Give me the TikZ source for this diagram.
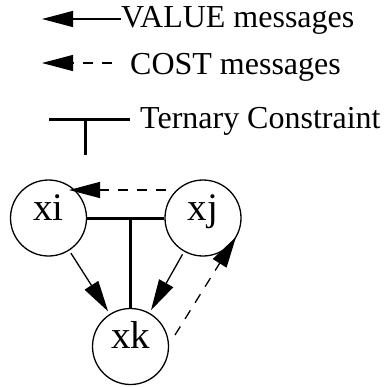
\documentclass[tikz,border=0pt]{standalone}
\usepackage{fontspec}
\setmainfont{Liberation Serif}
\usetikzlibrary{arrows.meta}
\tikzset{
  var/.style={draw, circle, line width=1.3pt, inner sep=0pt, minimum size=76pt,
    font=\fontsize{39}{44}\selectfont, text height=0.7em, text depth=0.25em},
  legendtext/.style={anchor=base west, inner sep=0pt, font=\fontsize{32}{38}\selectfont},
  msg/.style={line width=1.3pt, -{Triangle[length=31pt,width=16pt]}},
  costmsg/.style={msg, dash pattern=on 10pt off 9pt},
  constraint/.style={line width=3pt}
}
\begin{document}
\begin{tikzpicture}[x=1pt,y=-1pt]
\useasboundingbox (0,0) rectangle (387,386);
% legend
\node[legendtext] (lv) at (121,27) {VALUE messages};
\coordinate (lvt) at (42,19);
\draw[msg] (lv.west |- lvt) -- (lvt);
\node[legendtext] (lc) at (130,74) {COST messages};
\coordinate (lcs) at (112,63);
\coordinate (lct) at (42,63);
\draw[costmsg] (lcs) -- (lct);
\node[legendtext] (lt) at (140,128) {Ternary Constraint};
\coordinate (ta) at (49,119);
\coordinate (tb) at (130,119);
\coordinate (tc) at (85,119);
\coordinate (td) at (85,155);
\draw[constraint] (ta) -- (tb);
\draw[constraint] (tc) -- (td);
% variables
\node[var] (xi) at (48.5,218) {xi};
\node[var] (xj) at (203,218) {xj};
\node[var] (xk) at (130.5,346.5) {xk};
% ternary constraint
\draw[constraint] (xi) -- (xj);
\coordinate (tm) at (130,218);
\draw[constraint] (tm) -- (tm |- xk.north);
% value messages
\draw[msg, shorten <=3pt, shorten >=3pt] (xi) -- (xk);
\draw[msg, shorten <=3pt, shorten >=3pt] (xj) -- (xk);
% cost messages
\coordinate (c1) at (166,190);
\coordinate (c2) at (69,190);
\draw[costmsg] (c1) -- (c2);
\coordinate (c3) at (175,335);
\coordinate (c4) at (236,237);
\draw[costmsg] (c3) -- (c4);
\end{tikzpicture}
\end{document}
